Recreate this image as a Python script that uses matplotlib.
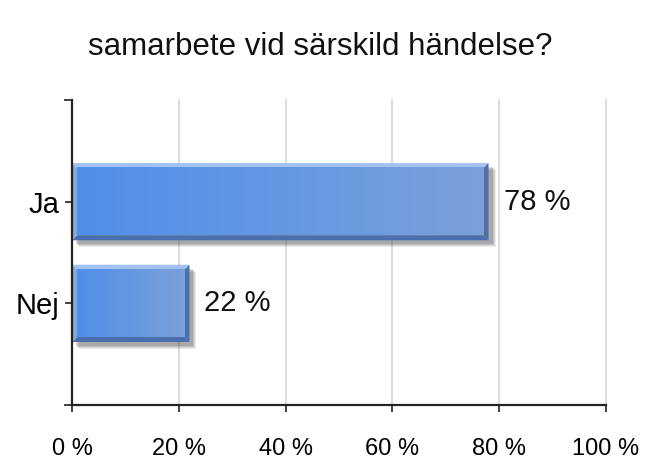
import numpy as np
import matplotlib.pyplot as plt
from matplotlib.patches import Polygon, Rectangle
from matplotlib.colors import to_rgb

plt.rcParams['font.family'] = ['Liberation Sans', 'DejaVu Sans']

title = 'samarbete vid särskild händelse?'
categories = ['Ja', 'Nej']
percent = [78, 22]
xticks = [0, 20, 40, 60, 80, 100]

W, H = 666, 473
fig = plt.figure(figsize=(W / 100, H / 100), dpi=100)
ax = fig.add_axes([72 / W, 1 - 405 / H, 534 / W, 305 / H])

xlim = (0, 100)
ylim = (2.0, -1.0)
bx = (xlim[1] - xlim[0]) / 534   # data units per pixel
by = abs(ylim[0] - ylim[1]) / 305

ypos = np.arange(len(categories))
bars = ax.barh(ypos, percent, height=0.76, color='none', zorder=3)

left_c = np.array(to_rgb('#4F8FEA'))
right_c = np.array(to_rgb('#7BA0DA'))
grad = np.linspace(0, 1, 256)[None, :, None]
grad_img = left_c * (1 - grad) + right_c * grad

bev = 5
dx, dy = bev * bx, bev * by
for rect, p in zip(bars, percent):
    x0, y0 = rect.get_x(), rect.get_y()
    x1, y1 = x0 + rect.get_width(), y0 + rect.get_height()

    # soft shadow
    for k, a in [(7, 0.1), (6, 0.12), (5, 0.15), (4, 0.18)]:
        ax.add_patch(Rectangle((x0 + k * bx, y0 + k * by), x1 - x0, y1 - y0,
                               facecolor='#404040', alpha=a, lw=0, zorder=2))

    # bevel edges
    ax.add_patch(Polygon([(x0, y0), (x1, y0), (x1 - dx, y0 + dy), (x0 + dx, y0 + dy)],
                         closed=True, facecolor='#A3C2F2', lw=0, zorder=3))
    ax.add_patch(Polygon([(x0, y1), (x1, y1), (x1 - dx, y1 - dy), (x0 + dx, y1 - dy)],
                         closed=True, facecolor='#4A6FAE', lw=0, zorder=3))
    ax.add_patch(Polygon([(x0, y0), (x0 + dx, y0 + dy), (x0 + dx, y1 - dy), (x0, y1)],
                         closed=True, facecolor='#7DA8EE', lw=0, zorder=3))
    ax.add_patch(Polygon([(x1, y0), (x1 - dx, y0 + dy), (x1 - dx, y1 - dy), (x1, y1)],
                         closed=True, facecolor='#52709F', lw=0, zorder=3))

    # gradient face
    ax.imshow(grad_img, extent=(x0 + dx, x1 - dx, y1 - dy, y0 + dy),
              aspect='auto', zorder=4, interpolation='bilinear')

    ax.text(x1 + 15 * bx, rect.get_y() + rect.get_height() / 2, f'{p} %',
            va='center', ha='left', fontsize=21, color='#111111')

ax.set_xlim(*xlim)
ax.set_ylim(*ylim)

ax.set_xticks(xticks)
ax.set_xticklabels([f'{t} %' for t in xticks])
ax.set_yticks(ypos)
ax.set_yticklabels(categories)
ax.set_yticks([ylim[0], ylim[1]], minor=True)

ax.tick_params(axis='x', length=5, width=1.2, pad=19, labelsize=17, color='#222222')
ax.tick_params(axis='y', which='major', length=5, width=1.2, pad=4, labelsize=21, color='#222222')
ax.tick_params(axis='y', which='minor', length=6, width=1.2, color='#222222')

ax.xaxis.grid(True, color='#D6D6D6', lw=1.2)
for gl in ax.get_xgridlines():
    gl.set_clip_on(False)
ax.set_axisbelow(True)

for s in ['top', 'right']:
    ax.spines[s].set_visible(False)
for s in ['left', 'bottom']:
    ax.spines[s].set_linewidth(1.6)
    ax.spines[s].set_color('#222222')
    ax.spines[s].set_zorder(5)

fig.text(320 / W, 1 - 55 / H, title, ha='center', va='baseline', fontsize=22.5, color='#111111')

fig.savefig('out.png', dpi=100)
